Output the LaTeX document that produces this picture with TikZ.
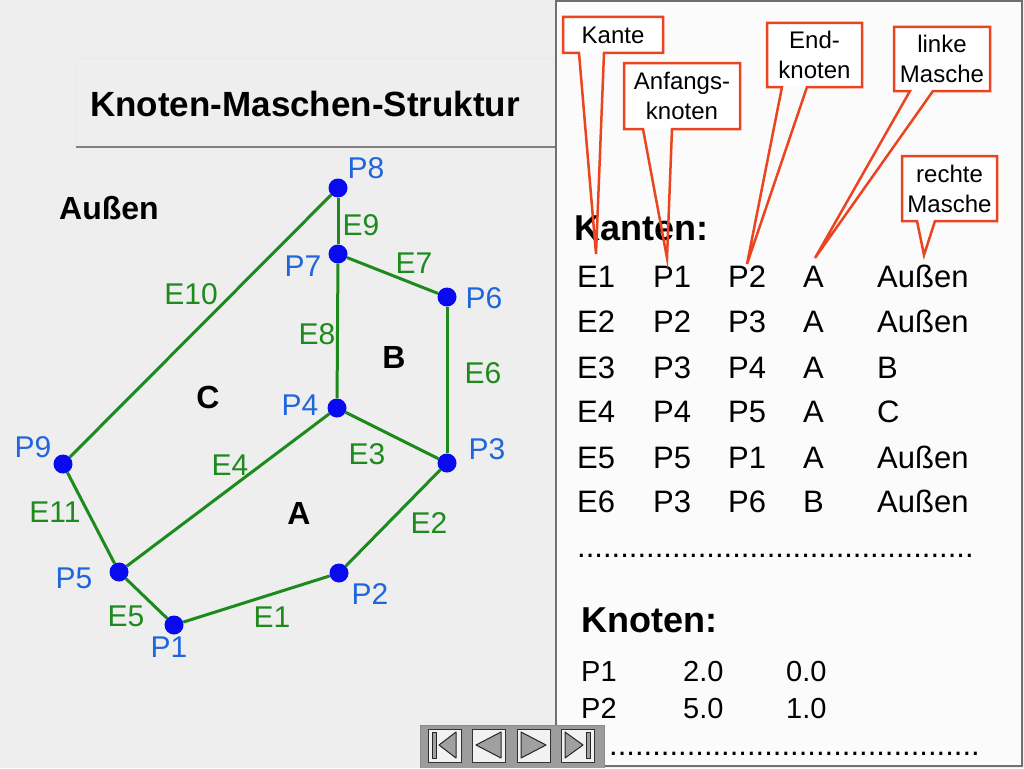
\documentclass[tikz,border=0pt]{standalone}
\usepackage{fontspec}
\setmainfont{Liberation Sans}
\definecolor{bg}{HTML}{EEEEEE}
\definecolor{panel}{HTML}{FBFBFB}
\definecolor{pborder}{HTML}{707070}
\definecolor{ptblue}{HTML}{0A0AF0}
\definecolor{lblue}{HTML}{1F66DD}
\definecolor{egreen}{HTML}{1E8A1E}
\definecolor{callred}{HTML}{EA4420}
\definecolor{navgray}{HTML}{9C9C9C}
\definecolor{btnfill}{HTML}{F2F2F2}
\definecolor{trigray}{HTML}{A0A0A0}
\newcommand\fs[2]{\fontsize{#1}{#2}\selectfont}
\tikzset{
  pt/.style={circle, fill=ptblue, inner sep=0pt, minimum size=19pt},
  plab/.style={text=lblue, font=\fs{30}{36}, inner sep=0pt},
  elab/.style={text=egreen, font=\fs{30}{36}, inner sep=0pt},
  edge/.style={draw=egreen, line width=3pt},
  region/.style={font=\bfseries\fs{32}{38}, inner sep=0pt},
  tab/.style={anchor=base west, font=\fs{31}{37}, inner sep=0pt},
  ktab/.style={anchor=base west, font=\fs{29}{35}, inner sep=0pt},
  head/.style={anchor=base west, font=\bfseries\fs{36}{42}, inner sep=0pt},
  call/.style={draw=callred, line width=2.5pt, line join=miter},
  callbox/.style={fill=white},
  calltext/.style={font=\fs{24}{30}, align=center, inner sep=0pt},
  btn/.style={fill=btnfill, draw=black!80, line width=1pt},
  tri/.style={fill=trigray, draw=black!85, line width=1pt, line join=round},
}
\begin{document}
\begin{tikzpicture}[x=1pt,y=-1pt]
\useasboundingbox (0,0) rectangle (1024,768);
\fill[bg] (0,0) rectangle (1024,768);
% title box
\draw[black!8, line width=1pt] (76,147) -- (76,58) -- (556,58);
\draw[black!50, line width=2pt] (76,147) -- (556,147);
\node[anchor=base west, font=\bfseries\fs{35}{42}, inner sep=0pt] (title) at (90,116) {Knoten-Maschen-Struktur};

% graph
\node[pt] (P1) at (174,625) {};
\node[pt] (P2) at (339,573) {};
\node[pt] (P3) at (447,463) {};
\node[pt] (P4) at (337,408) {};
\node[pt] (P5) at (119,572) {};
\node[pt] (P6) at (447,297) {};
\node[pt] (P7) at (338,254) {};
\node[pt] (P8) at (338,188) {};
\node[pt] (P9) at (63,464) {};
\draw[edge] (P1) -- (P2);
\draw[edge] (P2) -- (P3);
\draw[edge] (P3) -- (P4);
\draw[edge] (P4) -- (P5);
\draw[edge] (P5) -- (P1);
\draw[edge] (P3) -- (P6);
\draw[edge] (P6) -- (P7);
\draw[edge] (P7) -- (P4);
\draw[edge] (P7) -- (P8);
\draw[edge] (P8) -- (P9);
\draw[edge] (P9) -- (P5);

\node[plab] (lP1) at (169,647) {P1};
\node[plab] (lP2) at (370,594) {P2};
\node[plab] (lP3) at (487,449) {P3};
\node[plab] (lP4) at (300,405) {P4};
\node[plab] (lP5) at (74,578) {P5};
\node[plab] (lP6) at (484,298) {P6};
\node[plab] (lP7) at (303,266) {P7};
\node[plab] (lP8) at (366,168) {P8};
\node[plab] (lP9) at (33,447) {P9};

\node[elab] (lE1) at (272,617) {E1};
\node[elab] (lE2) at (429,523) {E2};
\node[elab] (lE3) at (367,454) {E3};
\node[elab] (lE4) at (230,465) {E4};
\node[elab] (lE5) at (126,616) {E5};
\node[elab] (lE6) at (483,373) {E6};
\node[elab] (lE7) at (414,263) {E7};
\node[elab] (lE8) at (317,334) {E8};
\node[elab] (lE9) at (361,225) {E9};
\node[elab] (lE10) at (191,294) {E10};
\node[elab] (lE11) at (55,512) {E11};

\node[region] (rAussen) at (109,208) {Außen};
\node[region] (rA) at (299,513) {A};
\node[region] (rB) at (394,357) {B};
\node[region] (rC) at (208,397) {C};

% right panel
\draw[draw=pborder, fill=panel, line width=2pt] (556,1) rectangle (1022,766);
\node[head] (kanten) at (574,240) {Kanten:};
\foreach \y/\a/\b/\c/\d/\e [count=\r] in
  {287/E1/P1/P2/A/Außen, 332/E2/P2/P3/A/Außen, 378/E3/P3/P4/A/B,
   422/E4/P4/P5/A/C, 468/E5/P5/P1/A/Außen, 512/E6/P3/P6/B/Außen}{
  \node[tab] (ka\r) at (577,\y) {\a};
  \node[tab] (kb\r) at (653,\y) {\b};
  \node[tab] (kc\r) at (728,\y) {\c};
  \node[tab] (kd\r) at (803,\y) {\d};
  \node[tab] (ke\r) at (877,\y) {\e};
}
\node[tab] (dots1) at (577,557) {..............................................};
\node[head] (knoten) at (581,632) {Knoten:};
\node[ktab] (n11) at (581,681) {P1};
\node[ktab] (n12) at (683,681) {2.0};
\node[ktab] (n13) at (786,681) {0.0};
\node[ktab] (n21) at (581,718) {P2};
\node[ktab] (n22) at (683,718) {5.0};
\node[ktab] (n23) at (786,718) {1.0};
\node[tab] (dots2) at (609,755) {...........................................};

% callouts
\fill[callbox] (563,17) rectangle (663,53);
\draw[call] (563,17) -- (663,17) -- (663,53) -- (604,53) -- (596,254) -- (579,53) -- (563,53) -- cycle;
\node[calltext] (cKante) at (613,35) {Kante};
\fill[callbox] (624,63) rectangle (740,129);
\draw[call] (624,63) -- (740,63) -- (740,129) -- (672,129) -- (667,258) -- (643,129) -- (624,129) -- cycle;
\node[calltext] (cAnf) at (682,96) {Anfangs-\\knoten};
\fill[callbox] (767,23) rectangle (862,87);
\draw[call] (767,23) -- (862,23) -- (862,87) -- (807,87) -- (747,264) -- (782,87) -- (767,87) -- cycle;
\node[calltext] (cEnd) at (814.5,55) {End-\\knoten};
\fill[callbox] (894,27) rectangle (990,91);
\draw[call] (894,27) -- (990,27) -- (990,91) -- (933,91) -- (815,258) -- (910,91) -- (894,91) -- cycle;
\node[calltext] (cLinke) at (942,59) {linke\\Masche};
\fill[callbox] (902,156) rectangle (997,221);
\draw[call] (902,156) -- (997,156) -- (997,221) -- (935,221) -- (924,255) -- (917,221) -- (902,221) -- cycle;
\node[calltext] (cRechte) at (949.5,188.5) {rechte\\Masche};

% navigation bar
\fill[navgray] (420,725) rectangle (604,768);
\draw[black!45, line width=1pt] (420,768) -- (420,725) -- (604,725) -- (604,768);
\draw[btn] (428,729) rectangle (461,762);
\draw[btn] (472,729) rectangle (505,762);
\draw[btn] (517,729) rectangle (550,762);
\draw[btn] (561,729) rectangle (594,762);
\draw[tri] (432,732) rectangle (436,758);
\draw[tri] (456,732) -- (439,745) -- (456,758) -- cycle;
\draw[tri] (501,732) -- (476,745) -- (501,758) -- cycle;
\draw[tri] (521,732) -- (546,745) -- (521,758) -- cycle;
\draw[tri] (565,732) -- (583,745) -- (565,758) -- cycle;
\draw[tri] (586,732) rectangle (590,758);
\end{tikzpicture}
\end{document}
